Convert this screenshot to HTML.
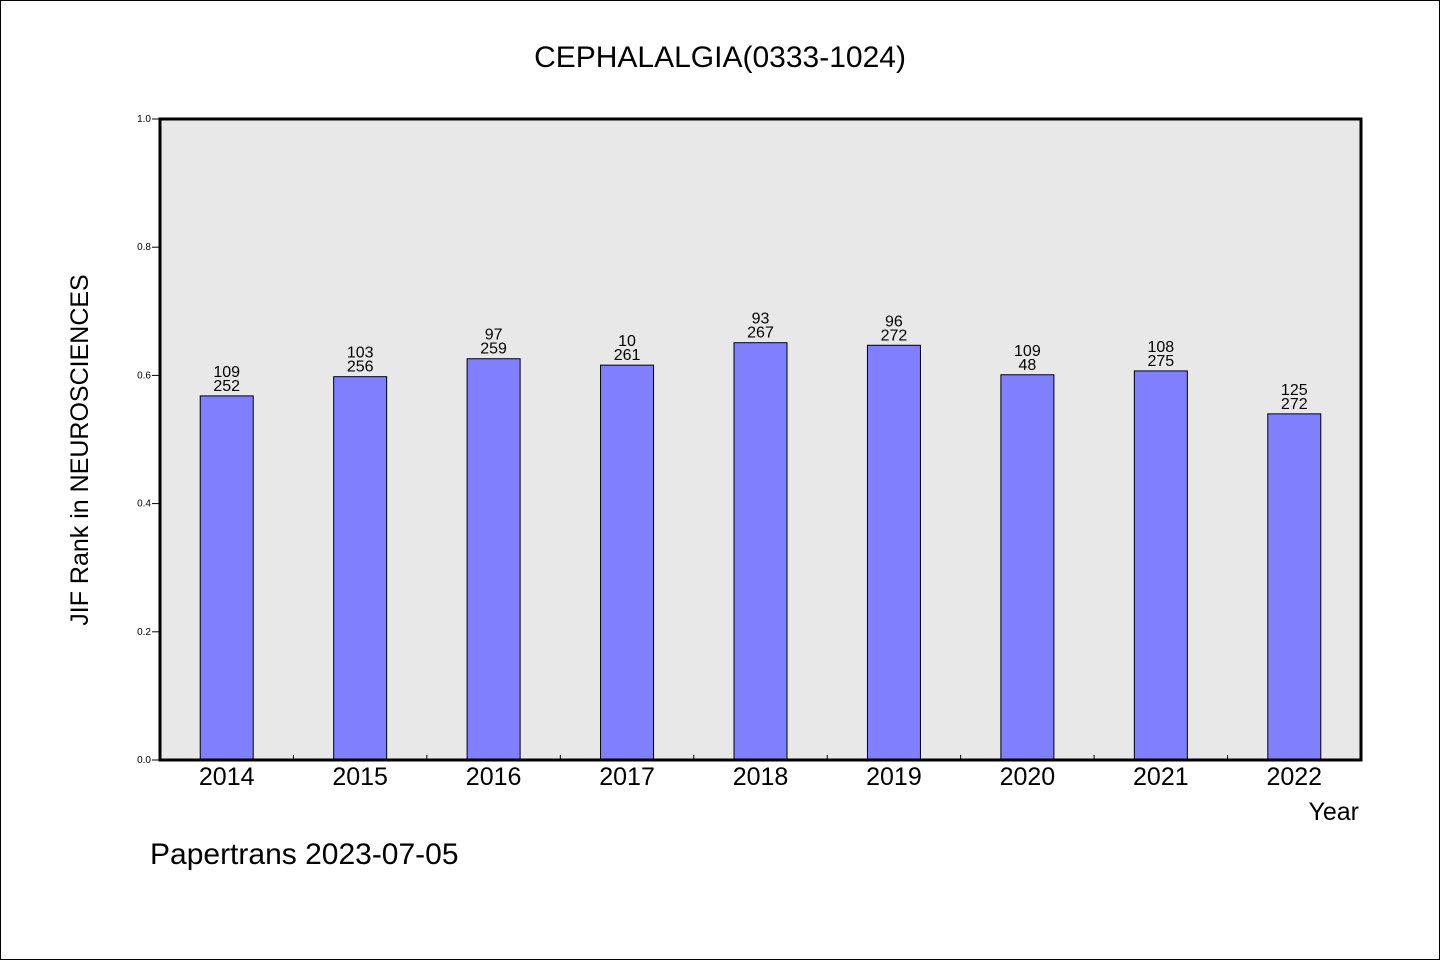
<!DOCTYPE html>
<html><head><meta charset="utf-8"><style>
body{margin:0;background:#fff}
svg text{font-family:"WenQuanYi Zen Hei","Liberation Sans",sans-serif}
</style></head><body>
<svg width="1440" height="960" xmlns="http://www.w3.org/2000/svg">
<rect x="0.5" y="0.5" width="1439" height="959" fill="#fff" stroke="#000"/>
<text x="720" y="67" text-anchor="middle" font-size="30">CEPHALALGIA(0333-1024)</text>
<rect x="160" y="119" width="1201" height="641" fill="#e8e8e8"/>
<g id="bars"></g>
<g id="axes"></g>
<rect x="160" y="119" width="1201" height="641" fill="none" stroke="#000" stroke-width="3"/>
<text transform="translate(88,450) rotate(-90)" text-anchor="middle" font-size="25">JIF Rank in NEUROSCIENCES</text>
<text x="1359" y="820" text-anchor="end" font-size="25">Year</text>
<text x="150" y="864" font-size="30">Papertrans 2023-07-05</text>
</svg>
<script>
const years=["2014","2015","2016","2017","2018","2019","2020","2021","2022"];
const values=[0.568,0.598,0.626,0.616,0.651,0.647,0.601,0.607,0.540];
const rankLabels=["109","103","97","10","93","96","109","108","125"];
const totalLabels=["252","256","259","261","267","272","48","275","272"];
const yTicks=[0,0.2,0.4,0.6,0.8,1.0];
const NS="http://www.w3.org/2000/svg";
const x0=160,x1=1361,y0=760,y1=119;
const band=(x1-x0)/years.length;
const xC=i=>x0+band*(i+0.5);
const yS=v=>y0-(y0-y1)*v;
function mk(t,a){const e=document.createElementNS(NS,t);for(const k in a)e.setAttribute(k,a[k]);return e;}
const bars=document.getElementById('bars'),axes=document.getElementById('axes');
years.forEach((yr,i)=>{
 const r=mk('rect',{x:xC(i)-26.5,y:yS(values[i]),width:53,height:y0-yS(values[i]),fill:'#8080ff',stroke:'#000','stroke-width':1});
 
 
 bars.appendChild(r);
 const t1=mk('text',{x:xC(i),y:yS(values[i])-19,'text-anchor':'middle','font-size':16});
 t1.textContent=rankLabels[i];
 
 
 bars.appendChild(t1);
 const t2=mk('text',{x:xC(i),y:yS(values[i])-5,'text-anchor':'middle','font-size':16});
 t2.textContent=totalLabels[i];
 
 
 bars.appendChild(t2);
 const xl=mk('text',{x:xC(i),y:785,'text-anchor':'middle','font-size':25});
 xl.textContent=yr;
 
 
 axes.appendChild(xl);
 if(i>0){const tk=mk('line',{x1:x0+band*i,x2:x0+band*i,y1:y0,y2:y0-5,stroke:'#000'});
 
 
 axes.appendChild(tk);}
});
yTicks.forEach(v=>{
 const tk=mk('line',{x1:x0-8,x2:x0,y1:yS(v),y2:yS(v),stroke:'#000'});
 
 
 axes.appendChild(tk);
 const t=mk('text',{x:x0-9,y:yS(v)+3,'text-anchor':'end','font-size':10});
 t.textContent=v.toFixed(1);
 
 
 axes.appendChild(t);
});
</script>
</body></html>
